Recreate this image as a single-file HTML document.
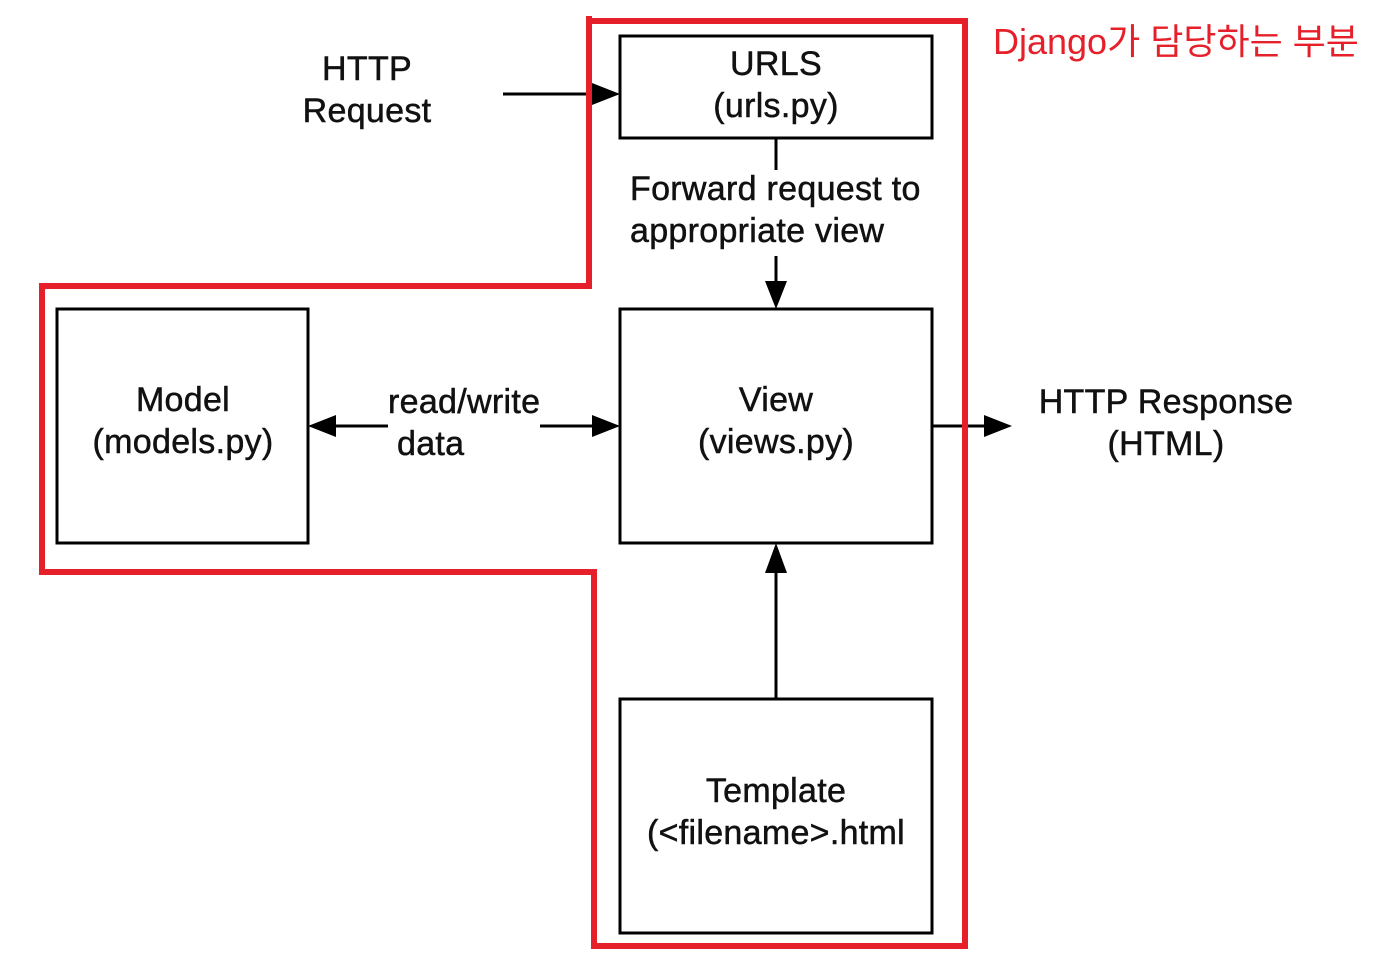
<!DOCTYPE html>
<html><head><meta charset="utf-8"><style>
html,body{margin:0;padding:0;background:#fff;}
svg{display:block;}
text{font-family:"Liberation Sans",Arial,sans-serif;fill:#111;font-size:34px;letter-spacing:0.3px;stroke:#111;stroke-width:0.5px;}
</style></head><body>
<svg width="1383" height="973" viewBox="0 0 1383 973">
<g fill="none" stroke="#000" stroke-width="3">
<rect x="620" y="36" width="312" height="102"/>
<rect x="620" y="309" width="312" height="234"/>
<rect x="57" y="309" width="251" height="234"/>
<rect x="620" y="699" width="312" height="234"/>
<line x1="503" y1="94" x2="600" y2="94"/>
<line x1="776" y1="138" x2="776" y2="170"/>
<line x1="776" y1="256" x2="776" y2="290"/>
<line x1="328" y1="426" x2="388" y2="426"/>
<line x1="540" y1="426" x2="600" y2="426"/>
<line x1="932" y1="426" x2="990" y2="426"/>
<line x1="776" y1="699" x2="776" y2="565"/>
</g>
<g fill="#000">
<polygon points="620,94 592,83 592,105"/>
<polygon points="776,309 765,281 787,281"/>
<polygon points="308,426 336,415 336,437"/>
<polygon points="620,426 592,415 592,437"/>
<polygon points="1012,426 984,415 984,437"/>
<polygon points="776,543 765,573 787,573"/>
</g>
<polyline fill="none" stroke="#e5202a" stroke-width="6" stroke-linejoin="miter" points="589,16 589,21 965,21 965,946 594,946 594,572 42,572 42,286 589,286 589,16"/>
<g text-anchor="middle">
<text x="367" y="80">HTTP</text>
<text x="367" y="122">Request</text>
<text x="776" y="75">URLS</text>
<text x="776" y="117">(urls.py)</text>
<text x="776" y="411">View</text>
<text x="776" y="453">(views.py)</text>
<text x="183" y="411">Model</text>
<text x="183" y="453">(models.py)</text>
<text x="776" y="802">Template</text>
<text x="776" y="844">(&lt;filename&gt;.html</text>
<text x="1166" y="413">HTTP Response</text>
<text x="1166" y="455">(HTML)</text>
</g>
<text x="630" y="200">Forward request to</text>
<text x="630" y="242">appropriate view</text>
<text x="388" y="413">read/write</text>
<text x="397" y="455">data</text>
<text x="993" y="54" style="fill:#e5202a;stroke:none;letter-spacing:0;font-family:'Liberation Sans','Noto Sans CJK KR',sans-serif;font-size:36px;">Django가 담당하는 부분</text>
</svg>
</body></html>
